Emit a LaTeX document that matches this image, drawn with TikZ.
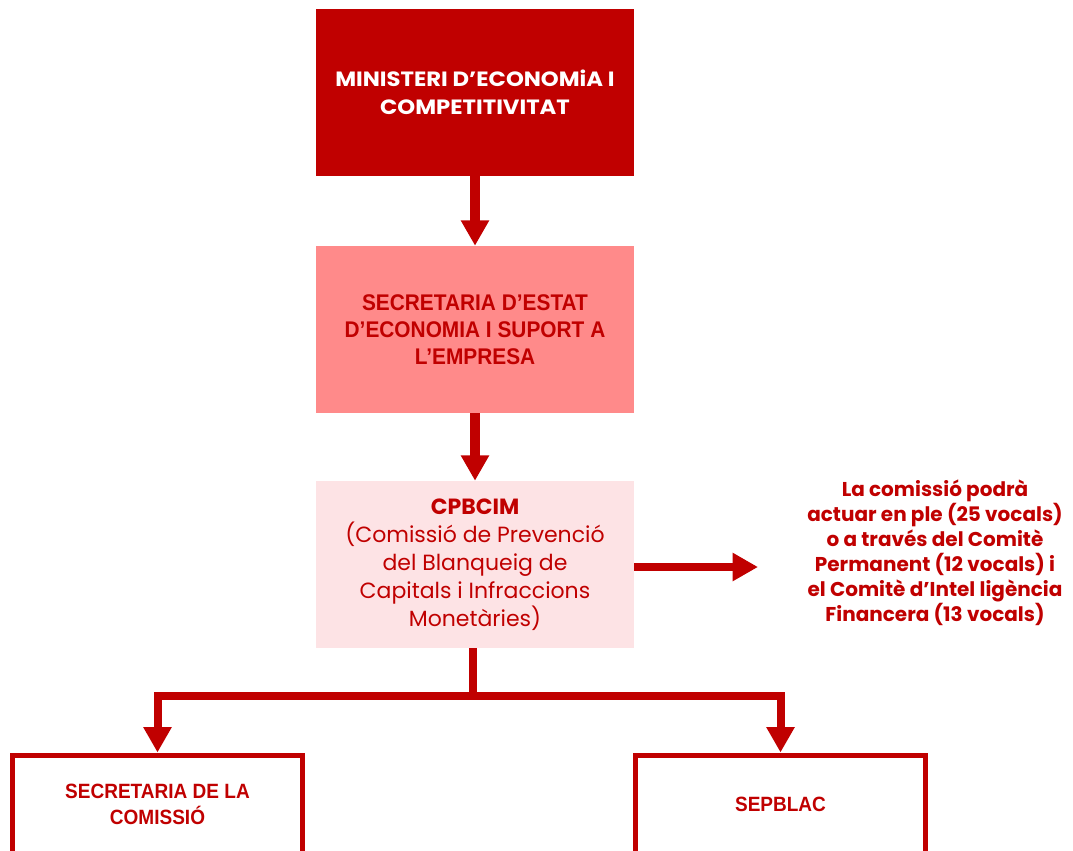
\documentclass[tikz,border=0pt]{standalone}
\usepackage{fontspec}
\setmainfont{Poppins}
\newfontfamily\condfont[FakeStretch=0.92]{Liberation Sans}
\newfontfamily\widefont[FakeStretch=1.1]{Poppins}
\usetikzlibrary{arrows.meta}
\definecolor{dred}{HTML}{C00000}
\definecolor{pinkA}{HTML}{FF8A8A}
\definecolor{pinkB}{HTML}{FDE3E5}
\tikzset{
  box/.style={minimum width=238.5pt, minimum height=125.25pt, inner sep=0pt, align=center},
  outbox/.style={draw=dred, line width=3.75pt, fill=white, minimum width=217.5pt, minimum height=74.25pt, inner sep=0pt, align=center, text=dred,
    font=\condfont\bfseries\fontsize{15.5}{20}\selectfont},
  varr/.style={draw=dred, line width=7pt, -{Triangle[width=20pt,length=19pt]}},
  conn/.style={draw=dred, line width=6pt},
  carr/.style={draw=dred, line width=6pt, -{Triangle[width=20pt,length=19pt]}},
}
\begin{document}
\begin{tikzpicture}[x=0.75pt,y=-0.75pt]
\useasboundingbox (0,0) rectangle (1073,850);
\clip (0,0) rectangle (1073,850);
\node[box, fill=dred, text=white, font=\widefont\bfseries\fontsize{15.5}{21}\selectfont] (b1) at (475,92.5)
  {MINISTERI D’ECONOMiA I\\COMPETITIVITAT};
\node[box, fill=pinkA, text=dred, font=\condfont\bfseries\fontsize{17}{20.25}\selectfont] (b2) at (475,329.5)
  {SECRETARIA D’ESTAT\\D’ECONOMIA I SUPORT A\\L’EMPRESA};
\node[box, fill=pinkB, text=dred, font=\fontsize{16.5}{21}\selectfont] (b3) at (475,564.5)
  {\textbf{CPBCIM}\\(Comissió de Prevenció\\del Blanqueig de\\Capitals i Infraccions\\Monetàries)};
\node[text=dred, align=center, font=\bfseries\fontsize{15}{18.75}\selectfont] (note) at (935,553)
  {La comissió podrà\\actuar en ple (25 vocals)\\o a través del Comitè\\Permanent (12 vocals) i\\el Comitè d’Intel ligència\\Financera (13 vocals)};
\node[outbox, anchor=north] (b4) at (157.5,752.5) {SECRETARIA DE LA\\COMISSIÓ};
\node[outbox, anchor=north] (b5) at (780.5,752.5) {SEPBLAC};
\coordinate (tipR) at (758,567);
\coordinate (j) at (473,696);
\draw[varr] (b1.south) -- (b2.north);
\draw[varr] (b2.south) -- (b3.north);
\draw[carr] (b3.east |- tipR) -- (tipR);
\draw[conn] (b3.south -| j) -- (j);
\draw[carr] (j) -| (b4.north);
\draw[carr] (j) -| (b5.north);
\end{tikzpicture}
\end{document}
